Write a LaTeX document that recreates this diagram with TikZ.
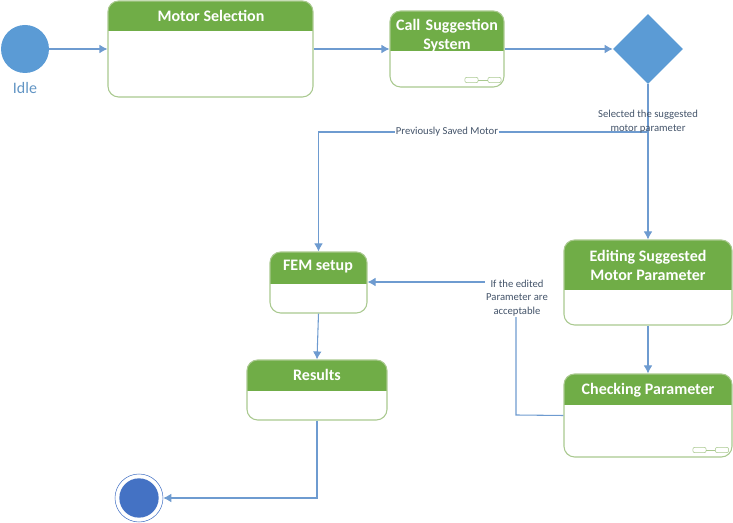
\documentclass[tikz,border=0pt]{standalone}
\usepackage{fontspec}
\setmainfont{Carlito}
\usepackage{tikz}
\usetikzlibrary{shapes.geometric,arrows.meta}
\definecolor{headgreen}{HTML}{70AD47}
\definecolor{edgegreen}{HTML}{A9C98F}
\definecolor{flowblue}{HTML}{5B9BD5}
\definecolor{linkblue}{HTML}{6E9BD0}
\definecolor{endblue}{HTML}{4472C4}
\definecolor{labelgray}{HTML}{44546A}
\tikzset{
    statebox/.style n args={3}{draw=edgegreen,line width=0.8pt,rounded corners=8pt,fill=white,
        minimum width=#1,minimum height=#2,inner sep=0pt,
        path picture={\fill[headgreen,sharp corners] (path picture bounding box.north west) rectangle
            ([yshift=-#3]path picture bounding box.north east);}},
    statetitle/.style={text=white,font=\fontsize{12}{14.25}\selectfont\bfseries,align=center,inner sep=0pt},
    link/.style={draw=linkblue,line width=0.8pt,-{Latex[length=6pt,width=6.5pt]}},
    plainlink/.style={draw=linkblue,line width=0.8pt},
    guard/.style={text=labelgray,font=\fontsize{8}{10}\selectfont,align=center,inner sep=1pt},
    linkbox/.style={draw=edgegreen,rounded corners=1.5pt,minimum width=10pt,minimum height=4pt,inner sep=0pt},
}
\begin{document}
\begin{tikzpicture}[x=0.75pt,y=-0.75pt]
    \useasboundingbox (0,0) rectangle (733,523);

    \node[circle,fill=flowblue,minimum size=36pt,inner sep=0pt] (idle) at (25,49) {};
    \node[text=flowblue!80!gray,font=\fontsize{12}{14}\selectfont,inner sep=0pt] (idletext) at (25,88) {Idle};

    \node[statebox={153.75pt}{72pt}{22.5pt}] (motor) at (210.5,49) {};
    \node[statetitle] (motortitle) at (211,16) {Motor Selection};

    \node[statebox={85.5pt}{57pt}{30pt}] (call) at (447,49) {};
    \node[statetitle,text width=85pt] (calltitle) at (447,36) {Call Suggestion\\System};
    \node[linkbox] (calla) at (471.5,80) {};
    \node[linkbox] (callb) at (494.5,80) {};
    \draw[edgegreen] (calla)--(callb);

    \node[diamond,fill=flowblue,minimum width=52.5pt,minimum height=52.5pt,inner sep=0pt] (choice) at (648,49) {};

    \node[statebox={126pt}{63.75pt}{37.5pt}] (edit) at (648,282.5) {};
    \node[statetitle] (edittitle) at (648,265) {Editing Suggested\\Motor Parameter};

    \node[statebox={126pt}{62.25pt}{23.25pt}] (check) at (648,415.5) {};
    \node[statetitle] (checktitle) at (648,390) {Checking Parameter};
    \node[linkbox] (checka) at (699.5,450) {};
    \node[linkbox] (checkb) at (722,450) {};
    \draw[edgegreen] (checka)--(checkb);

    \node[statebox={72.75pt}{45.75pt}{24pt}] (fem) at (318.5,282.5) {};
    \node[statetitle] (femtitle) at (318,267) {FEM setup};

    \node[statebox={105pt}{45pt}{23.25pt}] (results) at (317,390) {};
    \node[statetitle] (resultstitle) at (317,375) {Results};

    \node[circle,draw=endblue,minimum size=36pt,inner sep=0pt] (final) at (139,498) {};
    \node[circle,fill=endblue,minimum size=29.5pt,inner sep=0pt] (finaldot) at (139,498) {};

    \draw[link] (idle)--(motor);
    \draw[link] (motor.east)--(call.west);
    \draw[link] (call.east)--(choice.west);
    \draw[link] (choice.south)--(edit.north);
    \draw[link] (edit.south)--(check.north);
    \draw[link] (fem.south)--(results.north);
    \draw[link] (results.south) |- (final.east);

    \coordinate (branch) at (648,132);
    \draw[link] (branch) -| (fem.north);
    \coordinate (corner) at (516,415);
    \draw[plainlink] (check.west)--(corner)--(516,282);
    \draw[link] (516,282)--(fem.east |- 0,282);

    \node[guard,fill=white,inner ysep=0pt] (savedlabel) at (447,132) {Previously Saved Motor};
    \node[guard] (selectedlabel) at (648,121.5) {Selected the suggested\\motor parameter};
    \node[guard,fill=white] (editedlabel) at (517,298) {If the edited\\Parameter are\\acceptable};
\end{tikzpicture}
\end{document}
